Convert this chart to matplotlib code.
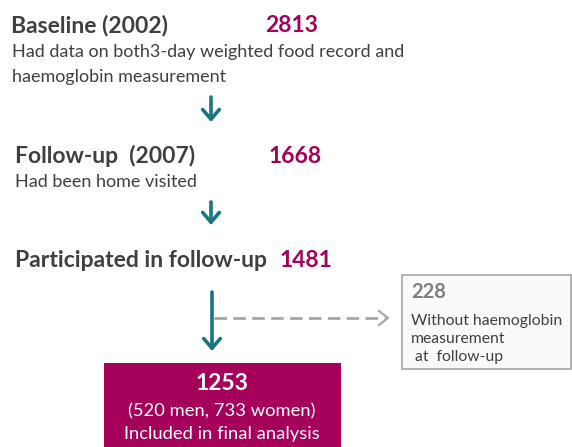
import matplotlib.pyplot as plt
from matplotlib.patches import Rectangle, FancyArrowPatch

plt.rcParams['font.family'] = ['Lato', 'DejaVu Sans']

# flow stages
stage_titles = ['Baseline (2002)', 'Follow-up  (2007)', 'Participated in follow-up']
stage_counts = [2813, 1668, 1481]
stage_notes = ['Had data on both3-day weighted food record and\nhaemoglobin measurement',
               'Had been home visited', '']
excluded_count = 228
excluded_note = ['Without haemoglobin', 'measurement', ' at  follow-up']
final_count = 1253
final_notes = ['(520 men, 733 women)', 'Included in final analysis']

dark = '#404040'
magenta = '#A5005A'
teal = '#17767E'
grey = '#7F7F7F'

fig = plt.figure(figsize=(5.72, 4.47), dpi=100)
ax = fig.add_axes([0, 0, 1, 1])
ax.set_xlim(0, 572)
ax.set_ylim(447, 0)
ax.axis('off')

# titles and counts
title_x = [11, 15, 15]
title_y = [32, 163, 267]
count_x = [265, 269, 280]
for i in range(3):
    ax.text(title_x[i], title_y[i], stage_titles[i], fontsize=16.5, fontweight='bold',
            color=dark, va='baseline')
    ax.text(count_x[i], title_y[i], str(stage_counts[i]), fontsize=16.5, fontweight='bold',
            color=magenta, va='baseline')

ax.text(12, 57, stage_notes[0].split('\n')[0], fontsize=13, color=dark, va='baseline')
ax.text(12, 82, stage_notes[0].split('\n')[1], fontsize=13, color=dark, va='baseline')
ax.text(15, 187, stage_notes[1], fontsize=13, color=dark, va='baseline')

def down_arrow(x, y0, y1):
    ax.add_patch(FancyArrowPatch((x, y0), (x, y1), arrowstyle='->,head_length=7,head_width=6',
                                 color=teal, lw=2.6, mutation_scale=1,
                                 shrinkA=0, shrinkB=0))

down_arrow(211, 97, 122)
down_arrow(211, 202, 225)
down_arrow(212, 292, 351)

# dashed arrow to excluded box
ax.plot([214, 385], [318, 318], color='#A6A6A6', lw=2, ls=(0, (4.5, 2.3)))
ax.plot([379, 388, 379], [311, 318, 325], color='#A6A6A6', lw=1.5)

ax.add_patch(Rectangle((402, 275), 169, 94, facecolor='#FAFAFA', edgecolor='#A6A6A6', lw=1.2))
ax.text(411, 298, str(excluded_count), fontsize=14.5, fontweight='bold', color=grey, va='baseline')
for j, line in enumerate(excluded_note):
    ax.text(411, 325 + j * 18, line, fontsize=11.3, color=dark, va='baseline')

# final box
ax.add_patch(Rectangle((104, 363), 237, 90, facecolor=magenta, edgecolor='none'))
ax.text(222, 390, str(final_count), fontsize=16.5, fontweight='bold', color='white',
        va='baseline', ha='center')
ax.text(222, 416, final_notes[0], fontsize=13.2, color='white', va='baseline', ha='center')
ax.text(222, 439, final_notes[1], fontsize=13.2, color='white', va='baseline', ha='center')

fig.savefig('out.png', dpi=100)
